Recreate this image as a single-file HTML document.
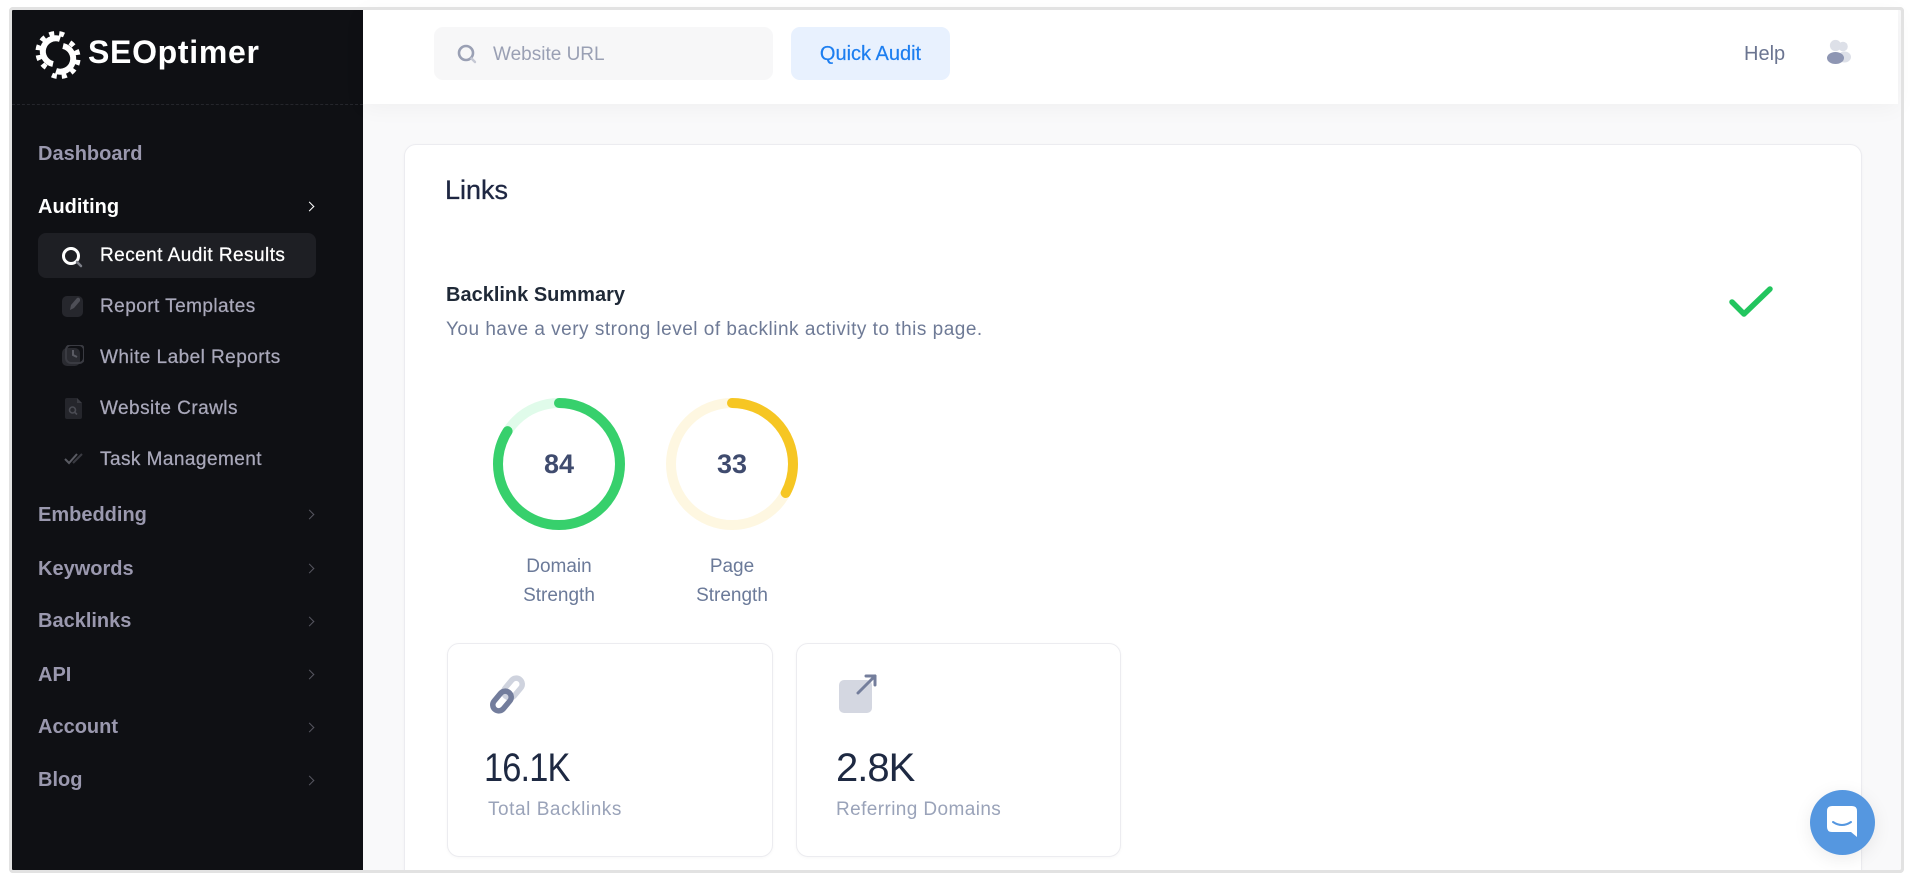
<!DOCTYPE html>
<html>
<head>
<meta charset="utf-8">
<style>
  html,body{margin:0;padding:0;width:1910px;height:880px;overflow:hidden;}
  body{position:relative;background:#ffffff;font-family:"Liberation Sans",Arial,sans-serif;}
  .abs{position:absolute;white-space:nowrap;line-height:1;}
  #frame{position:absolute;left:9px;top:7px;width:1889px;height:860px;border:3px solid #e2e2e2;border-radius:4px;overflow:hidden;background:#f9f9fa;}
  #side{position:absolute;left:12px;top:10px;width:351px;height:860px;background:#0f1014;}
  .nav{position:absolute;left:38px;font-size:20px;font-weight:bold;color:#9a98ae;line-height:1;}
  .sub{position:absolute;left:100px;font-size:19px;color:#a9a8ba;line-height:1;letter-spacing:0.45px;-webkit-text-stroke:0.25px currentColor;}
  .chev{position:absolute;left:306px;width:6px;height:6px;border-right:1.6px solid #55555f;border-top:1.6px solid #55555f;transform:rotate(45deg);}
  #header{position:absolute;left:363px;top:10px;width:1535px;height:94px;background:#fff;box-shadow:0 3px 22px rgba(0,0,0,0.045);}
  .card{position:absolute;background:#fff;border:1px solid #ececf0;border-radius:12px;box-shadow:0 1px 3px rgba(0,0,0,0.03);}
</style>
</head>
<body>
<div id="frame"></div>

<!-- Sidebar -->
<div id="side"></div>
<div class="abs" style="left:12px;top:104px;width:351px;height:0;border-top:1px dashed #25262c;"></div>

<!-- logo -->
<svg class="abs" style="left:31px;top:27px;" width="54" height="56" viewBox="0 0 54 56">
  <g fill="none" stroke="#ffffff" stroke-linecap="butt">
    <path d="M29 12 A13 13 0 1 0 22 37" stroke-width="6"/>
    <path d="M33 8 A18 18 0 1 0 18 42" stroke-width="5" stroke-dasharray="5 5"/>
    <path d="M25 44 A13 13 0 1 0 32 19" stroke-width="6"/>
    <path d="M21 48 A18 18 0 1 0 36 14" stroke-width="5" stroke-dasharray="5 5"/>
  </g>
</svg>
<div class="abs" style="left:88px;top:36px;font-size:32px;font-weight:bold;color:#fff;letter-spacing:0.7px;">SEOptimer</div>

<div class="nav" style="top:144px;">Dashboard</div>
<div class="nav" style="top:197px;color:#ffffff;">Auditing</div>
<div class="chev" style="top:203px;border-color:#ffffff;"></div>

<div class="abs" style="left:38px;top:233px;width:278px;height:45px;background:#1e1f24;border-radius:8px;"></div>
<svg class="abs" style="left:61px;top:246px;" width="24" height="22" viewBox="0 0 24 22">
  <circle cx="10" cy="10" r="7.5" fill="none" stroke="#ffffff" stroke-width="3"/>
  <line x1="16" y1="16" x2="20" y2="20" stroke="#7d7f88" stroke-width="2.5" stroke-linecap="round"/>
</svg>
<div class="sub" style="top:246px;color:#ffffff;">Recent Audit Results</div>

<svg class="abs" style="left:62px;top:295px;" width="22" height="22" viewBox="0 0 22 22">
  <rect x="0" y="1" width="21" height="21" rx="5" fill="#26272d"/>
  <path d="M8 15 L9 10 L15 3 Q17 2 18 4 L18 6 L12 13 Z" fill="#4e4f57"/>
</svg>
<div class="sub" style="top:297px;">Report Templates</div>

<svg class="abs" style="left:62px;top:345px;" width="22" height="22" viewBox="0 0 22 22">
  <rect x="0" y="3" width="18" height="18" rx="5" fill="#2a2b31"/>
  <rect x="4" y="0" width="18" height="18" rx="5" fill="none" stroke="#3a3b42" stroke-width="2"/>
  <path d="M11 5 L11 10 L15 12" stroke="#5a5b63" stroke-width="2" fill="none"/>
</svg>
<div class="sub" style="top:348px;">White Label Reports</div>

<svg class="abs" style="left:64px;top:398px;" width="20" height="22" viewBox="0 0 20 22">
  <path d="M3 0 H13 L18 5 V19 Q18 21 16 21 H3 Q1 21 1 19 V2 Q1 0 3 0 Z" fill="#25262c"/>
  <path d="M13 0 L18 5 H13 Z" fill="#3b3c43"/>
  <circle cx="8.5" cy="12" r="3" fill="none" stroke="#4b4c54" stroke-width="1.6"/>
  <line x1="10.5" y1="14" x2="13" y2="16.5" stroke="#4b4c54" stroke-width="1.6"/>
</svg>
<div class="sub" style="top:399px;">Website Crawls</div>

<svg class="abs" style="left:64px;top:452px;" width="24" height="14" viewBox="0 0 24 14">
  <path d="M1 7 L5 11 L13 2" stroke="#5a5b63" stroke-width="2" fill="none"/>
  <path d="M9 11 L18 2" stroke="#3a3b42" stroke-width="2" fill="none"/>
</svg>
<div class="sub" style="top:450px;">Task Management</div>

<div class="nav" style="top:505px;">Embedding</div><div class="chev" style="top:511px;"></div>
<div class="nav" style="top:559px;">Keywords</div><div class="chev" style="top:565px;"></div>
<div class="nav" style="top:611px;">Backlinks</div><div class="chev" style="top:618px;"></div>
<div class="nav" style="top:665px;">API</div><div class="chev" style="top:671px;"></div>
<div class="nav" style="top:717px;">Account</div><div class="chev" style="top:724px;"></div>
<div class="nav" style="top:770px;">Blog</div><div class="chev" style="top:777px;"></div>

<!-- Header -->
<div id="header"></div>
<div class="abs" style="left:434px;top:27px;width:339px;height:53px;background:#f7f7f8;border-radius:9px;"></div>
<svg class="abs" style="left:457px;top:44px;" width="22" height="22" viewBox="0 0 22 22">
  <circle cx="9" cy="9" r="7" fill="none" stroke="#9aa0b4" stroke-width="2.6"/>
  <line x1="14.5" y1="14.5" x2="18" y2="18" stroke="#c5c8d4" stroke-width="2.4" stroke-linecap="round"/>
</svg>
<div class="abs" style="left:493px;top:45px;font-size:19px;color:#9aa0b4;">Website URL</div>
<div class="abs" style="left:791px;top:27px;width:159px;height:53px;background:#e8f1fe;border-radius:9px;"></div>
<div class="abs" style="left:791px;top:44px;width:159px;text-align:center;font-size:20px;color:#1c7ef0;-webkit-text-stroke:0.2px currentColor;">Quick Audit</div>
<div class="abs" style="left:1744px;top:44px;font-size:20px;color:#6b7591;">Help</div>
<svg class="abs" style="left:1824px;top:38px;" width="30" height="30" viewBox="0 0 30 30">
  <circle cx="19" cy="8.5" r="4.8" fill="#dde0e8"/>
  <ellipse cx="20.5" cy="19" rx="6.5" ry="5.5" fill="#dde0e8"/>
  <circle cx="11.5" cy="7.5" r="5.6" fill="#dde0e8"/>
  <ellipse cx="11.5" cy="20" rx="8.5" ry="6" fill="#8e96b3"/>
</svg>

<!-- Main card (clipped at frame bottom) -->
<div class="card" style="left:404px;top:144px;width:1456px;height:740px;"></div>
<div class="abs" style="left:445px;top:177px;font-size:27px;color:#1e2742;-webkit-text-stroke:0.3px currentColor;">Links</div>
<div class="abs" style="left:446px;top:285px;font-size:20px;font-weight:bold;color:#1f2937;">Backlink Summary</div>
<div class="abs" style="left:446px;top:320px;font-size:19px;color:#6e7a96;letter-spacing:0.5px;">You have a very strong level of backlink activity to this page.</div>

<svg class="abs" style="left:1724px;top:283px;" width="54" height="38" viewBox="1724 283 54 38">
  <polyline points="1732,302 1744,314 1770,289" fill="none" stroke="#22c55e" stroke-width="5.5" stroke-linecap="round" stroke-linejoin="round"/>
</svg>

<!-- Gauges -->
<svg class="abs" style="left:480px;top:390px;" width="340" height="150" viewBox="480 390 340 150">
  <circle cx="559" cy="464" r="61" fill="none" stroke="#e0fbea" stroke-width="10"/>
  <circle cx="559" cy="464" r="61" fill="none" stroke="#37d06c" stroke-width="10" stroke-linecap="round"
          stroke-dasharray="322 400" transform="rotate(-90 559 464)"/>
  <circle cx="732" cy="464" r="61" fill="none" stroke="#fef7e1" stroke-width="10"/>
  <circle cx="732" cy="464" r="61" fill="none" stroke="#f6c623" stroke-width="10" stroke-linecap="round"
          stroke-dasharray="126 400" transform="rotate(-90 732 464)"/>
</svg>
<div class="abs" style="left:509px;top:451px;width:100px;text-align:center;font-size:27px;font-weight:bold;color:#3f4b6e;">84</div>
<div class="abs" style="left:682px;top:451px;width:100px;text-align:center;font-size:27px;font-weight:bold;color:#3f4b6e;">33</div>
<div class="abs" style="left:489px;top:552px;width:140px;text-align:center;font-size:19px;color:#6b7a99;line-height:29px;white-space:normal;">Domain<br>Strength</div>
<div class="abs" style="left:662px;top:552px;width:140px;text-align:center;font-size:19px;color:#6b7a99;line-height:29px;white-space:normal;">Page<br>Strength</div>

<!-- Stat cards -->
<div class="card" style="left:447px;top:643px;width:324px;height:212px;"></div>
<svg class="abs" style="left:488px;top:675px;" width="40" height="40" viewBox="0 0 40 40">
  <rect x="19" y="2" width="12" height="22" rx="6" fill="none" stroke="#cfd3de" stroke-width="5.5" transform="rotate(40 25 13)"/>
  <rect x="8" y="15" width="12" height="22" rx="6" fill="none" stroke="#737d9c" stroke-width="5.5" transform="rotate(40 14 26)"/>
</svg>
<div class="abs" style="left:484px;top:748px;font-size:40px;color:#1e2942;letter-spacing:-1px;transform:scaleX(0.86);transform-origin:0 0;">16.1K</div>
<div class="abs" style="left:488px;top:800px;font-size:19px;color:#9aa3b9;letter-spacing:0.55px;">Total Backlinks</div>

<div class="card" style="left:796px;top:643px;width:323px;height:212px;"></div>
<svg class="abs" style="left:838px;top:674px;" width="42" height="42" viewBox="0 0 42 42">
  <rect x="1" y="6" width="33" height="33" rx="5" fill="#d4d7e1"/>
  <path d="M20 19 L37 2" stroke="#747e9c" stroke-width="3" stroke-linecap="round"/>
  <path d="M28 2 L37 2 L37 11" stroke="#747e9c" stroke-width="3" fill="none" stroke-linecap="round" stroke-linejoin="round"/>
</svg>
<div class="abs" style="left:836px;top:748px;font-size:40px;color:#1e2942;letter-spacing:-1px;">2.8K</div>
<div class="abs" style="left:836px;top:800px;font-size:19px;color:#9aa3b9;letter-spacing:0.4px;">Referring Domains</div>

<!-- Chat button -->
<div class="abs" style="left:1810px;top:790px;width:65px;height:65px;border-radius:50%;background:#5597e0;box-shadow:0 4px 18px rgba(0,0,0,0.08);"></div>
<svg class="abs" style="left:1826px;top:805px;" width="34" height="34" viewBox="0 0 34 34">
  <path d="M6 1 H26 Q31 1 31 6 V32 L25 27 H6 Q1 27 1 22 V6 Q1 1 6 1 Z" fill="#ffffff"/>
  <path d="M7 17 Q16 23 25 17" stroke="#5597e0" stroke-width="2" fill="none" stroke-linecap="round"/>
</svg>

<!-- white outside frame to clip anything below -->
<div class="abs" style="left:0;top:873px;width:1910px;height:20px;background:#ffffff;"></div>
<!-- frame border on top of everything -->
<div class="abs" style="left:9px;top:7px;width:1889px;height:860px;border:3px solid #e2e2e2;border-radius:4px;pointer-events:none;"></div>
</body>
</html>
